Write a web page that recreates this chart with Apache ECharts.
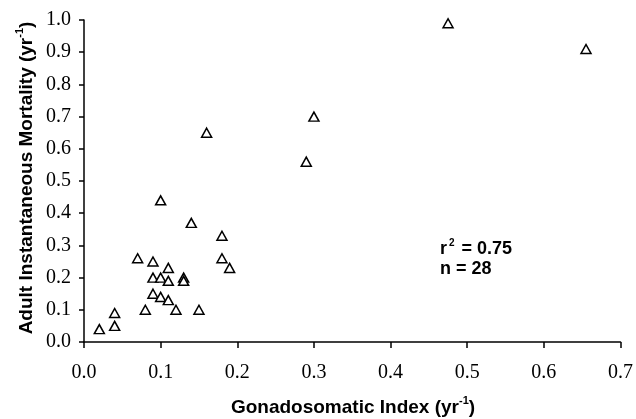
<!DOCTYPE html>
<html>
<head>
<meta charset="utf-8">
<script src="https://cdn.jsdelivr.net/npm/echarts@6/dist/echarts.min.js"></script>
<style>
  html, body { margin: 0; padding: 0; background: #fff; }
  #main { width: 636px; height: 419px; }
</style>
</head>
<body>
<div id="main"></div>
<script>
// gonadosomatic index (x) and adult mortality (y)
var gsi = [0.10, 0.14, 0.18, 0.07, 0.09, 0.18, 0.11, 0.19, 0.09, 0.10, 0.11, 0.13, 0.13,
           0.09, 0.10, 0.11, 0.08, 0.12, 0.15, 0.04, 0.04, 0.02, 0.16, 0.30, 0.29, 0.475, 0.655];
var mortality = [0.44, 0.37, 0.33, 0.26, 0.25, 0.26, 0.23, 0.23, 0.20, 0.20, 0.19, 0.20, 0.19,
                 0.15, 0.14, 0.13, 0.10, 0.10, 0.10, 0.09, 0.05, 0.04, 0.65, 0.70, 0.56, 0.99, 0.91];
var r2Text = '0.75';
var nText = '28';

var pts = [];
for (var i = 0; i < gsi.length; i++) {
  pts.push([gsi[i], mortality[i]]);
}

var serif = '"Liberation Serif", "Times New Roman", serif';
var sans = '"Liberation Sans", Arial, sans-serif';

// rich text styles for bold titles with a superscript
var titleRich = {
  t: { fontFamily: sans, fontWeight: 'bold', fontSize: 19, fill: '#000', lineHeight: 22, verticalAlign: 'bottom' },
  s: { fontFamily: sans, fontWeight: 'bold', fontSize: 11, fill: '#000', lineHeight: 22, verticalAlign: 'top' }
};

var chart = echarts.init(document.getElementById('main'));

var option = {
  backgroundColor: '#fff',
  animation: false,
  grid: { left: 84, right: 14, top: 20, bottom: 77 },
  xAxis: {
    type: 'value',
    min: 0, max: 0.7, interval: 0.1,
    splitLine: { show: false },
    axisLine: { lineStyle: { color: '#000', width: 1.5 } },
    axisTick: { length: 6, lineStyle: { color: '#000', width: 1.5 } },
    axisLabel: {
      margin: 21,
      color: '#000',
      fontFamily: serif,
      fontSize: 20,
      formatter: function (v) { return v.toFixed(1); }
    }
  },
  yAxis: {
    type: 'value',
    min: 0, max: 1, interval: 0.1,
    splitLine: { show: false },
    axisLine: { lineStyle: { color: '#000', width: 1.5 } },
    axisTick: { length: 5, lineStyle: { color: '#000', width: 1.5 } },
    axisLabel: {
      margin: 13,
      color: '#000',
      fontFamily: serif,
      fontSize: 20,
      formatter: function (v) { return v.toFixed(1); }
    }
  },
  graphic: [
    {
      type: 'text',
      x: 353, y: 406,
      style: {
        text: '{t|Gonadosomatic Index (yr}{s|-1}{t|)}',
        align: 'center',
        verticalAlign: 'middle',
        rich: titleRich
      }
    },
    {
      type: 'text',
      x: 25, y: 178,
      rotation: Math.PI / 2,
      style: {
        text: '{t|Adult Instantaneous Mortality (yr}{s|-1}{t|)}',
        align: 'center',
        verticalAlign: 'middle',
        rich: titleRich
      }
    },
    {
      type: 'text',
      left: 440, top: 238,
      style: {
        text: '{t|r}{s|2}{t| = ' + r2Text + '}\n{t|n = ' + nText + '}',
        rich: {
          t: { fontFamily: sans, fontWeight: 'bold', fontSize: 18, fill: '#000', lineHeight: 20, verticalAlign: 'bottom' },
          s: { fontFamily: sans, fontWeight: 'bold', fontSize: 10, fill: '#000', lineHeight: 20, verticalAlign: 'top', padding: [0, 2, 0, 2] }
        }
      }
    }
  ],
  series: [{
    type: 'scatter',
    data: pts,
    symbol: 'triangle',
    symbolSize: [10, 9],
    itemStyle: { color: '#fff', borderColor: '#000', borderWidth: 1.5, opacity: 1 }
  }]
};

chart.setOption(option);
</script>
</body>
</html>
